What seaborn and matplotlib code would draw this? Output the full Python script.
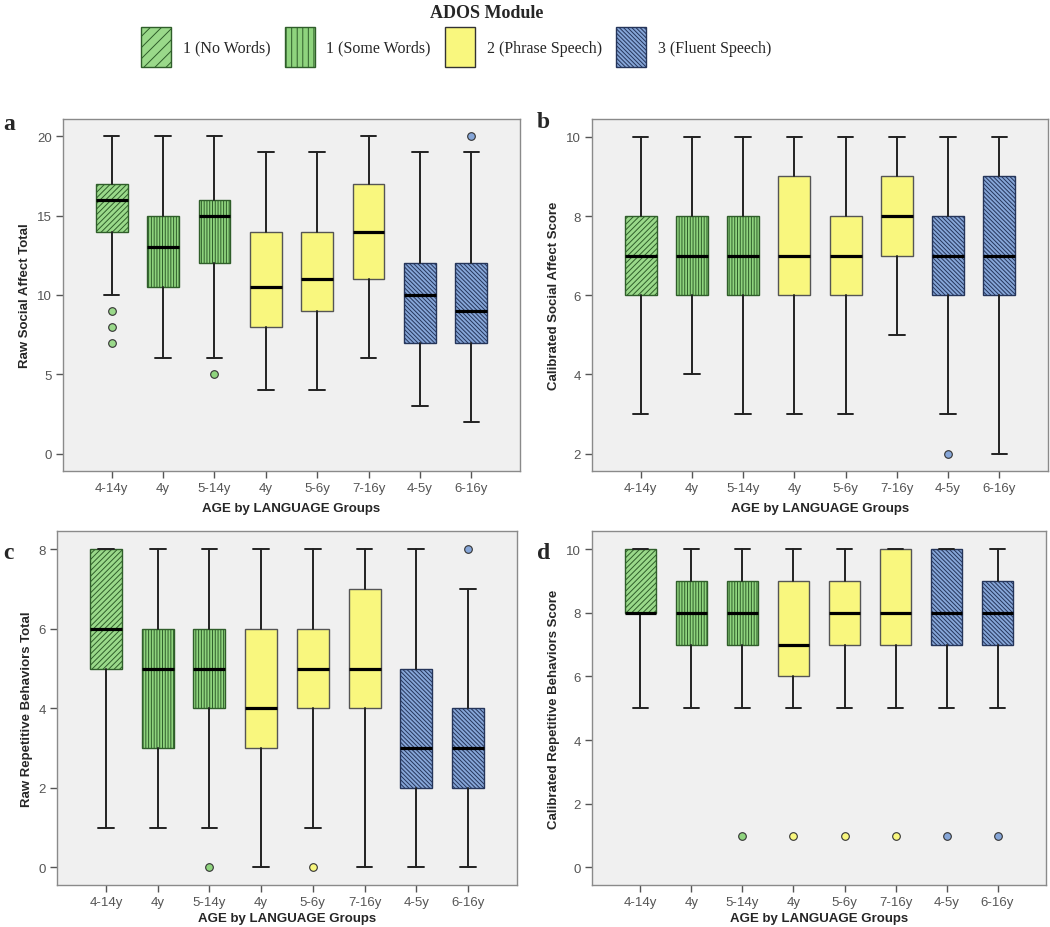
import numpy as np
import seaborn as sns
import matplotlib.pyplot as plt
from matplotlib.patches import Patch

# groups along the x axis (age within ADOS module)
groups = ["4-14y", "4y", "5-14y", "4y", "5-6y", "7-16y", "4-5y", "6-16y"]
group_module = ["1 (No Words)", "1 (Some Words)", "1 (Some Words)",
                "2 (Phrase Speech)", "2 (Phrase Speech)", "2 (Phrase Speech)",
                "3 (Fluent Speech)", "3 (Fluent Speech)"]
module_names = ["1 (No Words)", "1 (Some Words)", "2 (Phrase Speech)", "3 (Fluent Speech)"]

# five-number summaries per group: [whisker low, Q1, median, Q3, whisker high]
sa_raw = [[10, 14, 16, 17, 20], [6, 10.5, 13, 15, 20], [6, 12, 15, 16, 20], [4, 8, 10.5, 14, 19],
          [4, 9, 11, 14, 19], [6, 11, 14, 17, 20], [3, 7, 10, 12, 19], [2, 7, 9, 12, 19]]
sa_raw_out = [[9, 8, 7], [], [5], [], [], [], [], [20]]

sa_cal = [[3, 6, 7, 8, 10], [4, 6, 7, 8, 10], [3, 6, 7, 8, 10], [3, 6, 7, 9, 10],
          [3, 6, 7, 8, 10], [5, 7, 8, 9, 10], [3, 6, 7, 8, 10], [2, 6, 7, 9, 10]]
sa_cal_out = [[], [], [], [], [], [], [2], []]

rrb_raw = [[1, 5, 6, 8, 8], [1, 3, 5, 6, 8], [1, 4, 5, 6, 8], [0, 3, 4, 6, 8],
           [1, 4, 5, 6, 8], [0, 4, 5, 7, 8], [0, 2, 3, 5, 8], [0, 2, 3, 4, 7]]
rrb_raw_out = [[], [], [0], [], [0], [], [], [8]]

rrb_cal = [[5, 8, 8, 10, 10], [5, 7, 8, 9, 10], [5, 7, 8, 9, 10], [5, 6, 7, 9, 10],
           [5, 7, 8, 9, 10], [5, 7, 8, 10, 10], [5, 7, 8, 10, 10], [5, 7, 8, 9, 10]]
rrb_cal_out = [[], [], [1], [1], [1], [1], [1], [1]]

sns.set_theme(style="ticks")
plt.rcParams['font.family'] = ['Liberation Sans', 'DejaVu Sans']
plt.rcParams['hatch.linewidth'] = 0.7

fill = {"1 (No Words)": "#9ad98a", "1 (Some Words)": "#8fd47e",
        "2 (Phrase Speech)": "#f9f77e", "3 (Fluent Speech)": "#86a6d8"}
hatch_col = {"1 (No Words)": "#2f5e2a", "1 (Some Words)": "#2f5e2a",
             "2 (Phrase Speech)": "#555555", "3 (Fluent Speech)": "#25355a"}
hatch = {"1 (No Words)": "//////", "1 (Some Words)": "||||||",
         "2 (Phrase Speech)": "", "3 (Fluent Speech)": "\\" * 8}

fig = plt.figure(figsize=(10.5, 9.28), dpi=100)
W, H = 1050, 928


def box_panel(rect, summ, outl, yticks, ylim, ylabel, letter, lpos, xpad=6):
	ax = fig.add_axes(rect)
	stats = []
	for g, s, o in zip(groups, summ, outl):
		stats.append(dict(label=g, whislo=s[0], q1=s[1], med=s[2], q3=s[3], whishi=s[4], fliers=o))
	res = ax.bxp(stats, positions=range(len(groups)), widths=0.62, capwidths=0.3,
	             patch_artist=True, showfliers=True,
	             medianprops=dict(color='black', lw=2.3),
	             whiskerprops=dict(color='#222222', lw=1.4),
	             capprops=dict(color='#222222', lw=1.4),
	             flierprops=dict(marker='o', markersize=5.5, markeredgecolor='#333333', markeredgewidth=0.8))
	for i, m in enumerate(group_module):
		b = res['boxes'][i]
		b.set_facecolor(fill[m])
		b.set_edgecolor(hatch_col[m])
		b.set_hatch(hatch[m])
		b.set_linewidth(1.0)
		res['fliers'][i].set_markerfacecolor(fill[m])
	ax.set_facecolor('#f0f0f0')
	ax.set_xlim(-0.95, 7.95)
	ax.set_ylim(*ylim)
	ax.set_yticks(yticks)
	ax.set_xticks(range(len(groups)))
	ax.set_xticklabels(groups)
	for sp in ax.spines.values():
		sp.set_color('#8a8a8a')
		sp.set_linewidth(1.0)
		sp.set_visible(True)
	ax.tick_params(direction='out', length=5, width=1, color='#555555',
	               labelcolor='#555555', labelsize=9.5, pad=3)
	ax.set_xlabel('AGE by LANGUAGE Groups', fontsize=9.5, fontweight='bold', labelpad=xpad)
	ax.set_ylabel(ylabel, fontsize=9.5, fontweight='bold', labelpad=4)
	fig.text(lpos[0] / W, 1 - lpos[1] / H, letter, family='Liberation Serif',
	         fontweight='bold', fontsize=17, va='center', ha='left')
	return ax


box_panel([63 / W, 1 - 472 / H, 457 / W, 352 / H], sa_raw, sa_raw_out, [0, 5, 10, 15, 20],
          (-1.1, 21.1), 'Raw Social Affect Total', 'a', (3, 124))
box_panel([592 / W, 1 - 472 / H, 456 / W, 352 / H], sa_cal, sa_cal_out, [2, 4, 6, 8, 10],
          (1.56, 10.45), 'Calibrated Social Affect Score', 'b', (537, 122))
box_panel([57 / W, 1 - 886 / H, 460 / W, 354 / H], rrb_raw, rrb_raw_out, [0, 2, 4, 6, 8],
          (-0.44, 8.46), 'Raw Repetitive Behaviors Total', 'c', (3, 554), xpad=3)
box_panel([592 / W, 1 - 886 / H, 454 / W, 354 / H], rrb_cal, rrb_cal_out, [0, 2, 4, 6, 8, 10],
          (-0.55, 10.57), 'Calibrated Repetitive Behaviors Score', 'd', (537, 554), xpad=3)

# legend across the top
handles = [Patch(facecolor=fill[m], edgecolor=hatch_col[m] if hatch[m] else '#333333',
                 hatch=hatch[m].replace('//////', '///').replace('||||||', '|||'), lw=1.0)
           for m in module_names]
fig.legend(handles, module_names, loc='center', bbox_to_anchor=(456 / W, 1 - 48 / H),
           ncol=4, frameon=False, prop=dict(family='Liberation Serif', size=11.5),
           handlelength=1.9, handleheight=3.4, handletextpad=0.7, columnspacing=0.9)
fig.text(487 / W, 1 - 13 / H, 'ADOS Module', family='Liberation Serif', fontweight='bold',
         fontsize=13, ha='center', va='center')

fig.savefig('out.png', dpi=100)
